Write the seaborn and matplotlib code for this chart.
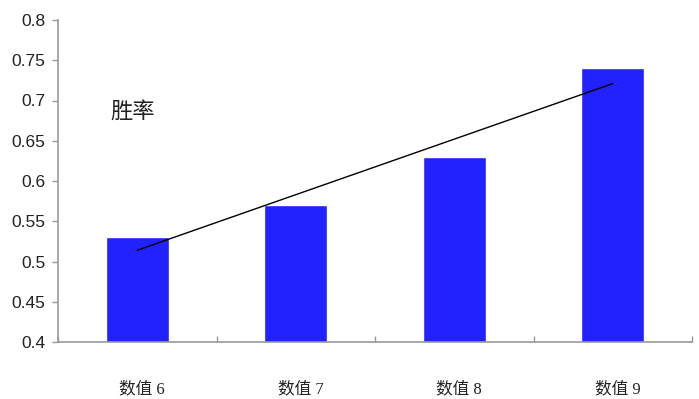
import numpy as np
import pandas as pd
import matplotlib
matplotlib.use("Agg")
import matplotlib.pyplot as plt
import seaborn as sns

categories = ["数值 6", "数值 7", "数值 8", "数值 9"]
win_rate = [0.53, 0.57, 0.63, 0.74]
y_ticks = [0.4, 0.45, 0.5, 0.55, 0.6, 0.65, 0.7, 0.75, 0.8]
y_tick_labels = ["0.4", "0.45", "0.5", "0.55", "0.6", "0.65", "0.7", "0.75", "0.8"]
series_label = "胜率"

sns.set_style("white")
plt.rcParams['font.family'] = ['Liberation Sans', 'Noto Sans CJK SC', 'DejaVu Sans']

df = pd.DataFrame({"cat": categories, "val": win_rate})

fig = plt.figure(figsize=(6.99, 3.99), dpi=100)
ax = fig.add_axes([58/699, 57/399, 634/699, 322/399])

sns.barplot(data=df, x="cat", y="val", color="#2222ff", saturation=1, width=0.4, ax=ax)

# linear trend line
xs = np.arange(len(win_rate))
k, b = np.polyfit(xs, win_rate, 1)
ax.plot([xs[0], xs[-1]], [k*xs[0]+b, k*xs[-1]+b], color="black", lw=1)

ax.set_xlim(-0.5, len(categories) - 0.5)
ax.set_ylim(0.4, 0.8)
ax.set_yticks(y_ticks)
ax.set_yticklabels(y_tick_labels, fontsize=12.5, color="#222222")
ax.set_xlabel("")
ax.set_ylabel("")

ax.set_xticks(np.arange(len(categories) + 1) - 0.5, minor=False)
ax.set_xticklabels([])
ax.tick_params(axis="x", which="major", bottom=True, direction="in", length=4, color="#999999", width=1)
ax.set_xticks(xs + 0.03, minor=True)
ax.set_xticklabels(categories, minor=True, fontsize=12,
                   family=['Liberation Serif', 'Noto Sans CJK SC'], color="#222222")
ax.tick_params(axis="x", which="minor", bottom=True, length=0, pad=28)
ax.tick_params(axis="y", left=True, direction="out", length=4, color="#999999", width=1, pad=5)

for s in ["top", "right"]:
    ax.spines[s].set_visible(False)
for s in ["left", "bottom"]:
    ax.spines[s].set_color("#999999")
    ax.spines[s].set_linewidth(1.2)

ax.text(-0.03, 0.686, series_label, fontsize=16, ha="center", va="center",
        family=['Noto Sans CJK SC'], color="#222222")

fig.savefig("out.png", dpi=100)
